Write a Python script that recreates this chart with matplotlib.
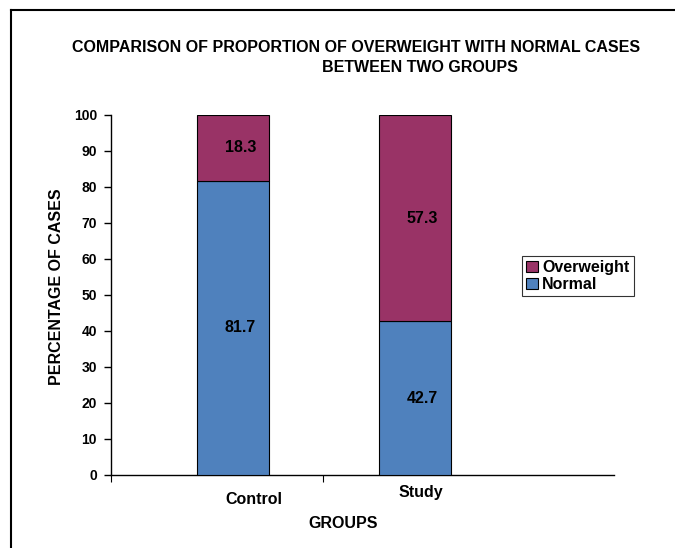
import matplotlib.pyplot as plt
from matplotlib.lines import Line2D

# Data
groups = ['Control', 'Study']
normal = [81.7, 42.7]
overweight = [18.3, 57.3]
yticks = list(range(0, 101, 10))

BLUE = '#4f81bd'
PURPLE = '#993366'
FS = 11.5

plt.rcParams['font.family'] = ['Liberation Sans', 'DejaVu Sans']
plt.rcParams['font.weight'] = 'bold'

fig = plt.figure(figsize=(6.75, 5.48), dpi=100)
W, H = 675, 548

# axes placed in pixel terms: x 111..614, y 115..475
ax = fig.add_axes([111 / W, 1 - 475 / H, (614 - 111) / W, (475 - 115) / H])

pos = [0, 1]
width = 0.40
ax.bar(pos, normal, width, color=BLUE, edgecolor='black', linewidth=0.8, label='Normal', zorder=3)
ax.bar(pos, overweight, width, bottom=normal, color=PURPLE, edgecolor='black',
       linewidth=0.8, label='Overweight', zorder=3)

for x, n, o in zip(pos, normal, overweight):
    ax.text(x + 0.04, n / 2, f'{n}', ha='center', va='center', fontsize=FS, fontweight='bold')
    ax.text(x + 0.04, n + o / 2, f'{o}', ha='center', va='center', fontsize=FS, fontweight='bold')

ax.set_xlim(-0.67, 2.093)
ax.set_ylim(0, 100)
ax.set_yticks(yticks)
ax.tick_params(axis='y', labelsize=10, length=5, width=1, pad=5, direction='out')
for lab in ax.get_yticklabels():
    lab.set_fontweight('bold')

ax.set_xticks([-0.67, 0.495])
ax.set_xticklabels([])
ax.tick_params(axis='x', length=5, width=0.8, direction='out')

# category labels under the bars
ax.text(0.115, -6.7, groups[0], ha='center', va='center', fontsize=FS, fontweight='bold',
        clip_on=False)
ax.text(1.03, -5.0, groups[1], ha='center', va='center', fontsize=FS, fontweight='bold',
        clip_on=False)

for s in ['top', 'right']:
    ax.spines[s].set_visible(False)
ax.spines['left'].set_linewidth(1)
ax.spines['bottom'].set_linewidth(1)

fig.text(57 / W, 1 - 287 / H, 'PERCENTAGE OF CASES', rotation=90, ha='center', va='center',
         fontsize=FS, fontweight='bold')
fig.text(343 / W, 1 - 524 / H, 'GROUPS', ha='center', va='center', fontsize=FS, fontweight='bold')

fig.text(356 / W, 1 - 47 / H, 'COMPARISON OF PROPORTION OF OVERWEIGHT WITH NORMAL CASES',
         ha='center', va='center', fontsize=FS, fontweight='bold')
fig.text(420 / W, 1 - 68 / H, 'BETWEEN TWO GROUPS', ha='center', va='center',
         fontsize=FS, fontweight='bold')

handles, labels = ax.get_legend_handles_labels()
leg = fig.legend(handles[::-1], labels[::-1], loc='center', bbox_to_anchor=(578 / W, 1 - 276 / H),
                 fontsize=FS, frameon=True, fancybox=False, edgecolor='black',
                 handlelength=0.7, handleheight=0.7, handletextpad=0.3, borderpad=0.25,
                 labelspacing=0.1, borderaxespad=0)
leg.get_frame().set_linewidth(0.8)

# outer frame (top and left edges visible)
fig.add_artist(Line2D([11 / W, 11 / W], [0, 1 - 10 / H], color='black', linewidth=1.5,
                      transform=fig.transFigure))
fig.add_artist(Line2D([11 / W, 1], [1 - 10 / H, 1 - 10 / H], color='black', linewidth=1.5,
                      transform=fig.transFigure))

fig.savefig('out.png', dpi=100)
